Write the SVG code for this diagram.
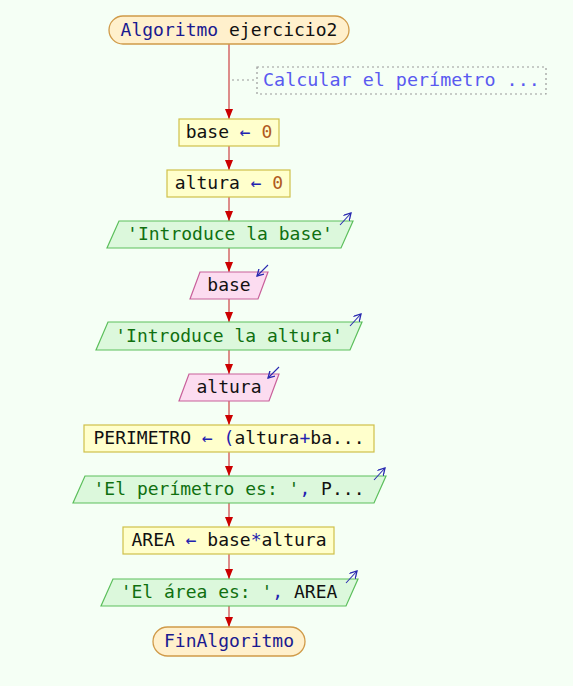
<svg xmlns="http://www.w3.org/2000/svg" width="573" height="686" viewBox="0 0 573 686">
  <defs>
    <marker id="arr" viewBox="0 0 10 8" refX="10" refY="4" markerWidth="10" markerHeight="8" markerUnits="userSpaceOnUse" orient="auto">
      <path d="M0,0 L10,4 L0,8 Z" fill="#cc0000"/>
    </marker>
    <marker id="io" viewBox="0 0 8 8" refX="7" refY="4" markerWidth="8" markerHeight="8" markerUnits="userSpaceOnUse" orient="auto">
      <path d="M0,0 L7,4 L0,8" fill="none" stroke="#2a2ab0" stroke-width="1.3"/>
    </marker>
  </defs>
  <style>
    text { font-family: "DejaVu Sans Mono", "Liberation Mono", monospace; font-size: 18px; fill: #111; }
    .term { fill: #fff0cc; stroke: #d09a48; stroke-width: 1.3; }
    .proc { fill: #ffffcc; stroke: #cfc04a; stroke-width: 1.2; }
    .out { fill: #dcf8dc; stroke: #5cbf5c; stroke-width: 1.2; }
    .in { fill: #fcdcf0; stroke: #c8609a; stroke-width: 1.2; }
    .note { fill: none; stroke: #9a9a9a; stroke-width: 1.2; stroke-dasharray: 2 3; }
    .kw { fill: #1a1a90; }
    .op { fill: #2222b0; }
    .num { fill: #b05a20; }
    .str { fill: #107010; }
    .cmt { fill: #5a5af0; font-size: 18.4px; }
    .flow { stroke: #d05050; stroke-width: 1.3; fill: none; marker-end: url(#arr); }
    .ioarrow { stroke: #2a2ab0; stroke-width: 1.1; fill: none; marker-end: url(#io); }
  </style>
  <rect width="573" height="686" fill="#f5fff5"/>

  <g id="connectors">
    <line class="flow" x1="229" y1="44" x2="229" y2="119"/>
    <line class="flow" x1="229" y1="146" x2="229" y2="170"/>
    <line class="flow" x1="229" y1="197" x2="229" y2="221"/>
    <line class="flow" x1="229" y1="248" x2="229" y2="272"/>
    <line class="flow" x1="229" y1="299" x2="229" y2="322"/>
    <line class="flow" x1="229" y1="350" x2="229" y2="374"/>
    <line class="flow" x1="229" y1="401" x2="229" y2="425"/>
    <line class="flow" x1="229" y1="452" x2="229" y2="476"/>
    <line class="flow" x1="229" y1="503" x2="229" y2="527"/>
    <line class="flow" x1="229" y1="554" x2="229" y2="579"/>
    <line class="flow" x1="229" y1="606" x2="229" y2="627"/>
    <line x1="232" y1="80" x2="257" y2="80" stroke="#9a9a9a" stroke-width="1.2" stroke-dasharray="2 3"/>
  </g>

  <g id="start">
    <rect class="term" x="109" y="16" width="240" height="28" rx="14"/>
    <text x="229" y="36" text-anchor="middle"><tspan class="kw">Algoritmo</tspan> ejercicio2</text>
  </g>

  <g id="comment">
    <rect class="note" x="257" y="67" width="289" height="27"/>
    <text class="cmt" x="263" y="86">Calcular el perímetro ...</text>
  </g>

  <g id="assign-base">
    <rect class="proc" x="179" y="119" width="100" height="27"/>
    <text x="229" y="138" text-anchor="middle">base <tspan class="op">←</tspan> <tspan class="num">0</tspan></text>
  </g>

  <g id="assign-altura">
    <rect class="proc" x="167" y="170" width="123" height="27"/>
    <text x="229" y="189" text-anchor="middle">altura <tspan class="op">←</tspan> <tspan class="num">0</tspan></text>
  </g>

  <g id="write-base">
    <polygon class="out" points="119,221 353,221 341,248 107,248"/>
    <text class="str" x="230" y="240" text-anchor="middle">'Introduce la base'</text>
    <line class="ioarrow" x1="340" y1="225" x2="351" y2="213"/>
  </g>

  <g id="read-base">
    <polygon class="in" points="200,272 268,272 258,299 190,299"/>
    <text x="229" y="291" text-anchor="middle">base</text>
    <line class="ioarrow" x1="268" y1="265" x2="257" y2="276"/>
  </g>

  <g id="write-altura">
    <polygon class="out" points="108,322 362,322 350,350 96,350"/>
    <text class="str" x="229" y="342" text-anchor="middle">'Introduce la altura'</text>
    <line class="ioarrow" x1="350" y1="326" x2="361" y2="314"/>
  </g>

  <g id="read-altura">
    <polygon class="in" points="189,374 279,374 269,401 179,401"/>
    <text x="229" y="393" text-anchor="middle">altura</text>
    <line class="ioarrow" x1="279" y1="367" x2="268" y2="378"/>
  </g>

  <g id="assign-perimetro">
    <rect class="proc" x="84" y="425" width="290" height="27"/>
    <text x="229" y="444" text-anchor="middle">PERIMETRO <tspan class="op">←</tspan> <tspan class="op">(</tspan>altura<tspan class="op">+</tspan>ba...</text>
  </g>

  <g id="write-perimetro">
    <polygon class="out" points="85,476 386,476 374,503 73,503"/>
    <text x="229" y="495" text-anchor="middle"><tspan class="str">'El perímetro es: '</tspan><tspan class="op">,</tspan> P...</text>
    <line class="ioarrow" x1="374" y1="480" x2="385" y2="468"/>
  </g>

  <g id="assign-area">
    <rect class="proc" x="123" y="527" width="211" height="27"/>
    <text x="229" y="546" text-anchor="middle">AREA <tspan class="op">←</tspan> base<tspan class="op">*</tspan>altura</text>
  </g>

  <g id="write-area">
    <polygon class="out" points="113,579 358,579 346,606 101,606"/>
    <text x="229" y="598" text-anchor="middle"><tspan class="str">'El área es: '</tspan><tspan class="op">,</tspan> AREA</text>
    <line class="ioarrow" x1="346" y1="583" x2="357" y2="571"/>
  </g>

  <g id="end">
    <rect class="term" x="153" y="627" width="152" height="29" rx="14.5"/>
    <text class="kw" x="229" y="647" text-anchor="middle">FinAlgoritmo</text>
  </g>
</svg>
